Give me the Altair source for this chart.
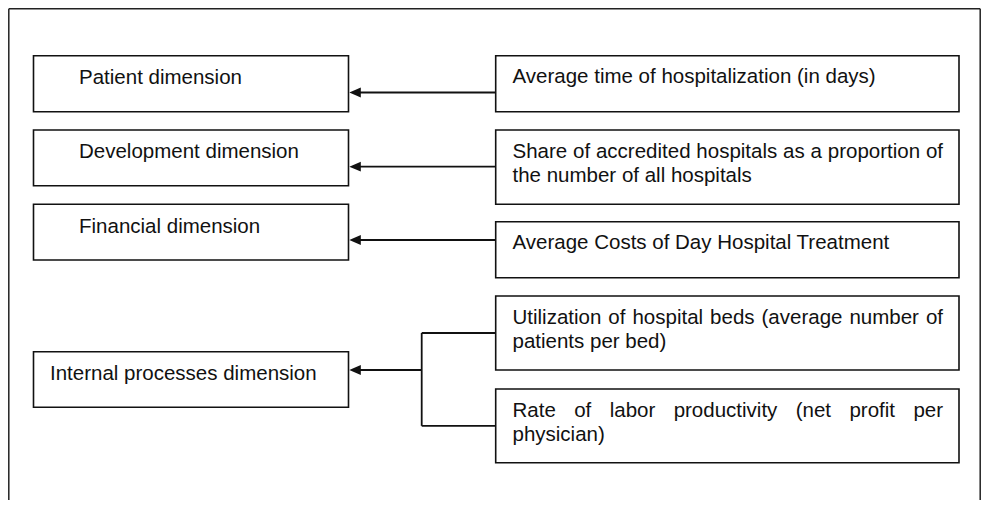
import altair as alt
import pandas as pd

# ---------------- content ----------------
left_labels = [
    "Patient dimension",
    "Development dimension",
    "Financial dimension",
    "Internal processes dimension",
]
right_lines = [
    ["Average time of hospitalization (in days)"],
    ["Share of accredited hospitals as a proportion of", "the number of all hospitals"],
    ["Average Costs of Day Hospital Treatment"],
    ["Utilization of hospital beds (average number of", "patients per bed)"],
    ["Rate of labor productivity (net profit per", "physician)"],
]
right_to_left = [0, 1, 2, 3, 3]

# ---------------- layout (reference pixel coordinates) ----------------
PAGE = 8
W, H = 973, 492
FONT = "Liberation Sans"
FS = 20.5

LEFT_X = (33.5, 348.5)
LEFT_Y = [(55.7, 111.7), (130, 185.7), (204.3, 260), (351.7, 407.3)]
LEFT_TX = [79, 79, 79, 50]
LEFT_BASE = 28.3

RIGHT_X = (495.7, 959)
RIGHT_Y = [(55.7, 111.7), (130, 204.3), (221.7, 277.7), (296, 370), (389, 462.7)]
RIGHT_TX = 512.5
RIGHT_BASE = 27.5
LINE_STEP = 24.3
JUSTIFY_END = 943

ARROW_Y = [92.5, 166.7, 240, 370]
BRACKET_X = 421.7
HEAD_R = 5.75
FRAME = (8.8, 8.8, PAGE + W - 0.8, PAGE + H)

# Arial / Liberation Sans advance widths (1/1000 em), used to justify lines
ADV = {' ': 278, '(': 333, ')': 333, 'a': 556, 'b': 556, 'c': 500, 'd': 556, 'e': 556,
       'f': 278, 'g': 556, 'h': 556, 'i': 222, 'j': 222, 'k': 500, 'l': 222, 'm': 833,
       'n': 556, 'o': 556, 'p': 556, 'q': 556, 'r': 333, 's': 500, 't': 278, 'u': 556,
       'v': 500, 'w': 722, 'x': 500, 'y': 500, 'z': 500, 'A': 667, 'C': 722, 'D': 722,
       'F': 611, 'H': 722, 'I': 278, 'P': 667, 'R': 722, 'S': 667, 'T': 611, 'U': 722}


def text_width(s):
    return sum(ADV.get(c, 556) for c in s) / 1000.0 * FS


# ---------------- tables ----------------
boxes = []
texts = []
for i, lab in enumerate(left_labels):
    y0, y1 = LEFT_Y[i]
    boxes.append({"x0": LEFT_X[0], "x1": LEFT_X[1], "y0": y0, "y1": y1})
    texts.append({"x": LEFT_TX[i], "y": y0 + LEFT_BASE, "text": lab})

for j, lines in enumerate(right_lines):
    y0, y1 = RIGHT_Y[j]
    boxes.append({"x0": RIGHT_X[0], "x1": RIGHT_X[1], "y0": y0, "y1": y1})
    for k, line in enumerate(lines):
        base = y0 + RIGHT_BASE + k * LINE_STEP
        justify = len(lines) > 1 and k < len(lines) - 1
        if not justify:
            texts.append({"x": RIGHT_TX, "y": base, "text": line})
        else:
            words = line.split(" ")
            widths = [text_width(w) for w in words]
            gap = (JUSTIFY_END - RIGHT_TX - sum(widths)) / (len(words) - 1)
            x = RIGHT_TX
            for w, wd in zip(words, widths):
                texts.append({"x": x, "y": base, "text": w})
                x += wd + gap

segs = []
heads = []
mids = [(RIGHT_Y[j][0] + RIGHT_Y[j][1]) / 2 for j in range(len(right_lines))]
for li in range(len(left_labels)):
    srcs = [j for j, l in enumerate(right_to_left) if l == li]
    ay = ARROW_Y[li]
    tip = LEFT_X[1] + 0.8
    heads.append({"x": tip + HEAD_R, "y": ay})
    if len(srcs) == 1:
        segs.append({"x": RIGHT_X[0], "y": ay, "x2": tip + HEAD_R, "y2": ay})
    else:
        segs.append({"x": BRACKET_X, "y": ay, "x2": tip + HEAD_R, "y2": ay})
        ys_ = [mids[j] for j in srcs]
        segs.append({"x": BRACKET_X, "y": min(ys_), "x2": BRACKET_X, "y2": max(ys_)})
        for yy in ys_:
            segs.append({"x": BRACKET_X, "y": yy, "x2": RIGHT_X[0], "y2": yy})

fx0, fy0, fx1, fy1 = FRAME
frame = [
    {"x": fx0, "y": fy0, "x2": fx1, "y2": fy0},
    {"x": fx0, "y": fy0, "x2": fx0, "y2": fy1},
    {"x": fx1, "y": fy0, "x2": fx1, "y2": fy1},
]

# ---------------- chart ----------------
xs = alt.Scale(domain=[PAGE, PAGE + W], nice=False, zero=False)
ys = alt.Scale(domain=[PAGE, PAGE + H], reverse=True, nice=False, zero=False)

frame_layer = alt.Chart(pd.DataFrame(frame)).mark_rule(color="#222", strokeWidth=1.5).encode(
    x=alt.X("x:Q", scale=xs, axis=None), x2="x2:Q",
    y=alt.Y("y:Q", scale=ys, axis=None), y2="y2:Q")

box_layer = alt.Chart(pd.DataFrame(boxes)).mark_rect(
    fill="white", stroke="#111", strokeWidth=1.6).encode(
    x=alt.X("x0:Q", scale=xs, axis=None), x2="x1:Q",
    y=alt.Y("y0:Q", scale=ys, axis=None), y2="y1:Q")

seg_layer = alt.Chart(pd.DataFrame(segs)).mark_rule(color="#111", strokeWidth=1.8).encode(
    x=alt.X("x:Q", scale=xs, axis=None), x2="x2:Q",
    y=alt.Y("y:Q", scale=ys, axis=None), y2="y2:Q")

head_layer = alt.Chart(pd.DataFrame(heads)).mark_point(
    shape="M -1 0 L 1 -0.85 L 1 0.85 Z", filled=True, size=(2 * HEAD_R) ** 2,
    color="#111", opacity=1, strokeWidth=0).encode(
    x=alt.X("x:Q", scale=xs, axis=None),
    y=alt.Y("y:Q", scale=ys, axis=None))

text_layer = alt.Chart(pd.DataFrame(texts)).mark_text(
    align="left", baseline="alphabetic", font=FONT, fontSize=FS, color="#111").encode(
    x=alt.X("x:Q", scale=xs, axis=None),
    y=alt.Y("y:Q", scale=ys, axis=None),
    text="text:N")

chart = alt.layer(frame_layer, box_layer, seg_layer, head_layer, text_layer).properties(
    width=W, height=H, padding=0,
    autosize=alt.AutoSizeParams(type="none"),
).configure_view(stroke=None)

chart.save("out.html", embed_options={"renderer": "svg", "actions": False})
